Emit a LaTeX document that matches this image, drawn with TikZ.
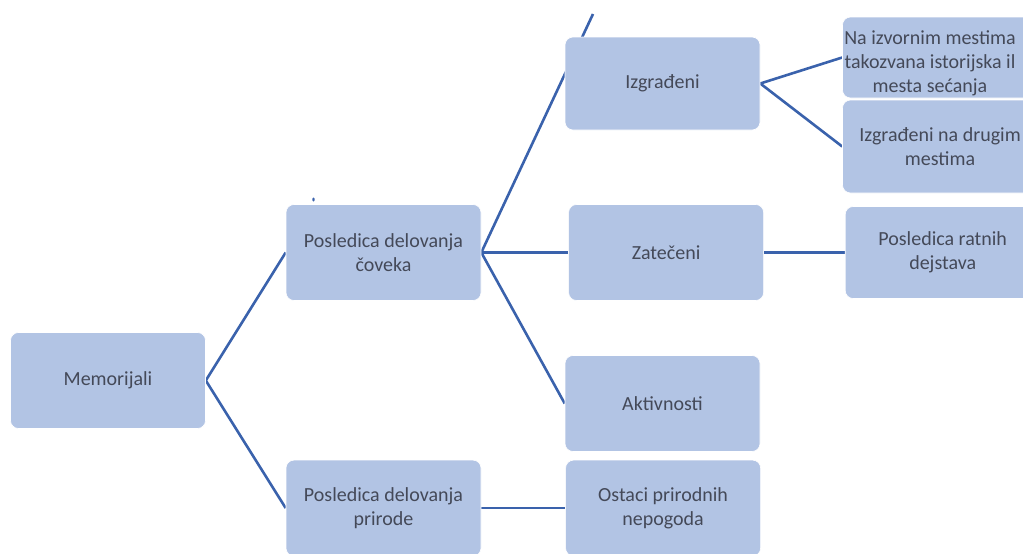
\documentclass[tikz,border=0pt]{standalone}
\usepackage{fontspec}
\setmainfont{Carlito}
\usepackage{tikz}
\usetikzlibrary{positioning,backgrounds}
\definecolor{boxfill}{RGB}{178,196,228}
\definecolor{boxtext}{RGB}{68,73,88}
\definecolor{linkblue}{RGB}{58,98,172}

\begin{document}
\begin{tikzpicture}[
  x=1pt, y=-1pt,
  font=\fontsize{20}{24}\selectfont,
  box/.style={draw=white, line width=0.6pt, fill=boxfill, text=boxtext,
    rounded corners=8pt, minimum width=195pt, minimum height=96pt,
    inner sep=2pt, align=center},
  link/.style={line width=2.6pt, linkblue},
]
\clip (0,0) rectangle (1023,554);

% root and first level
\node[box] (mem) at (108,380.5) {Memorijali};
\node[box] (pcov) at (383.5,252.5) {Posledica delovanja\\čoveka};
\node[box, below=159pt of pcov] (pprir) {Posledica delovanja\\prirode};

% second level
\node[box, minimum height=93pt] (izg) at (662.5,83.5) {Izgrađeni};
\node[box, right=87pt of pcov] (zat) {Zatečeni};
\node[box] (akt) at (662.5,403.5) {Aktivnosti};
\node[box, right=84pt of pprir] (ost) {Ostaci prirodnih\\nepogoda};

% third level (runs off the right edge)
\node[box, minimum height=81pt] (izvor) at (940,57.5) {};
\node[text=boxtext, align=center, inner sep=0pt] (izvorlbl)
  at ([xshift=-10pt, yshift=-6pt]izvor.center)
  {Na izvornim mestima\\takozvana istorijska il\\mesta sećanja};
\node[box, minimum height=93pt] (drugi) at (940,146.5)
  {Izgrađeni na drugim\\mestima};
\node[box, right=81pt of zat, minimum height=92pt] (ratni)
  {Posledica ratnih\\dejstava};

\coordinate (upper) at (593,14);
\coordinate (tick) at (313.5,199.5);

\begin{scope}[on background layer]
\draw[link] (mem.east) -- (pcov.west);
\draw[link] (mem.east) -- (pprir.west);
\draw[link] (pcov.east) -- (upper);
\draw[link] (pcov.east) -- (zat.west);
\draw[link] (pcov.east) -- (akt.west);
\draw[link] (pprir.east) -- (ost.west);
\draw[link] (izg.east) -- (izvor.west);
\draw[link] (izg.east) -- (drugi.west);
\draw[link] (zat.east) -- (ratni.west);
\end{scope}
\fill[linkblue] (tick) ellipse (1.2pt and 2pt);
\end{tikzpicture}
\end{document}
